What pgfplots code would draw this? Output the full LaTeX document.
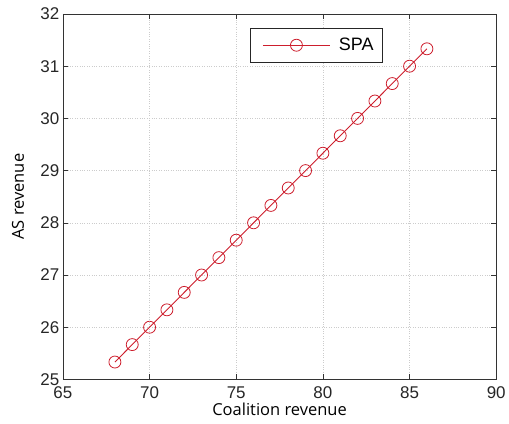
\documentclass[border=0pt]{standalone}
\usepackage{pgfplots}
\pgfplotsset{compat=1.18}
\usepackage{fontspec}
\setmainfont{Liberation Sans}
\newfontfamily\labelfont{Open Sans}
\definecolor{spared}{RGB}{205,30,45}
\begin{document}
\begin{tikzpicture}[x=1pt,y=1pt]
\begin{axis}[
  scale only axis,
  width=434pt, height=366pt,
  xmin=65, xmax=90, ymin=25, ymax=32,
  xtick={65,70,...,90}, ytick={25,...,32},
  tick align=inside,
  major tick length=5pt,
  xtick pos=both, ytick pos=both,
  grid=major,
  major grid style={dotted, gray!40, line width=0.6pt},
  axis line style={line width=0.8pt, black!80},
  every tick/.style={black!80, line width=0.6pt},
  /pgf/number format/assume math mode=true,
  ticklabel style={font=\fontsize{17}{17}\selectfont, text=black!85},
  xticklabel style={yshift=-4pt},
  xlabel={\labelfont\fontsize{16.5}{17}\selectfont Coalition revenue},
  ylabel={\labelfont\fontsize{16.5}{17}\selectfont AS revenue},
  xlabel style={at={(axis description cs:0.5,-0.082)}, anchor=center},
  ylabel style={at={(axis description cs:-0.1037,0.5)}, anchor=center},
  legend style={at={(0.431,0.962)}, anchor=north west, draw=black!85, line width=0.7pt,
    font=\fontsize{18}{18}\selectfont, inner xsep=7pt, inner ysep=8pt},
  legend cell align=left,
  legend image code/.code={
    \path[draw=none, fill=none] (0pt,-6pt) rectangle (80pt,6pt);
    \draw[spared, line width=0.8pt] (6pt,0pt) -- (73pt,0pt);
    \draw[spared, line width=0.8pt] (39.5pt,0pt) circle (6pt);
  },
]
\addplot[spared, line width=0.9pt, mark=o, mark size=6pt, mark options={line width=0.8pt}]
coordinates {
(68,25.333) (69,25.667) (70,26) (71,26.333) (72,26.667) (73,27) (74,27.333)
(75,27.667) (76,28) (77,28.333) (78,28.667) (79,29) (80,29.333) (81,29.667)
(82,30) (83,30.333) (84,30.667) (85,31) (86,31.333)
};
\addlegendentry{SPA}
\end{axis}
\useasboundingbox (-63pt,-44pt) rectangle (446pt,380pt);
\end{tikzpicture}
\end{document}
